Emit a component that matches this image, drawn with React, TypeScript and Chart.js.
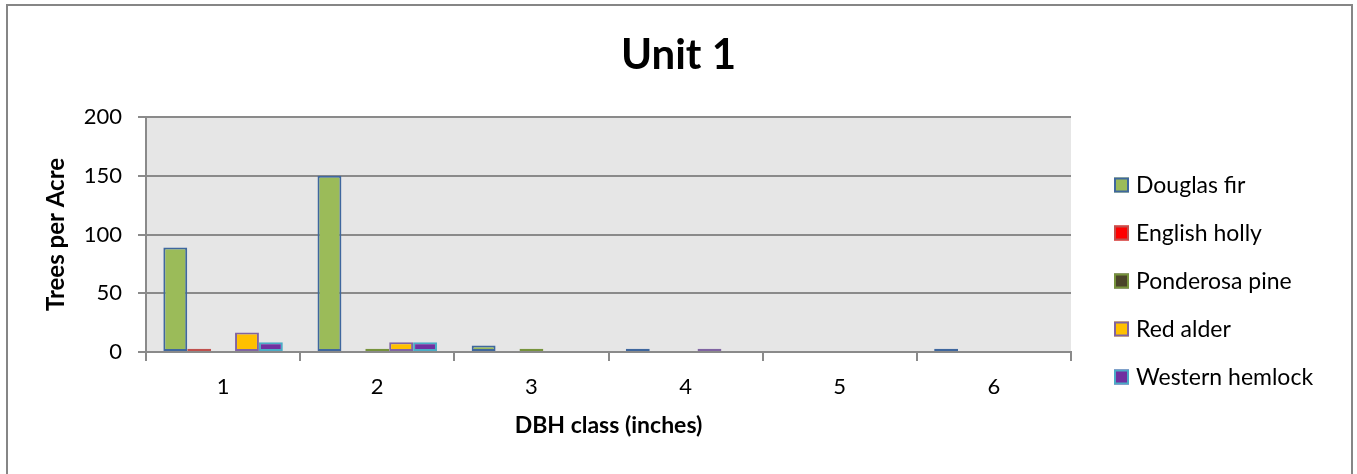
import React, { useEffect, useRef } from "react";
import { Chart, registerables } from "chart.js";

Chart.register(...registerables);

// DBH classes (inches) along the x axis
const dbhClasses = ["1", "2", "3", "4", "5", "6"];

// Trees per acre by species; null where no trees were tallied
const douglasFir = [88.89, 150, 5.56, 2.78, null, 2.78];
const englishHolly = [2.78, null, null, null, null, null];
const ponderosaPine = [null, 2.78, 2.78, null, null, null];
const redAlder = [16.67, 8.33, null, 2.78, null, null];
const westernHemlock = [8.33, 8.33, null, null, null, null];

const speciesNames = ["Douglas fir", "English holly", "Ponderosa pine", "Red alder", "Western hemlock"];
const fillColors = ["#9BBB59", "#FF0000", "#4A4429", "#FFC000", "#7030A0"];
const edgeColors = ["#3F679E", "#C0504D", "#77933C", "#8064A2", "#4BACC6"];

const yTicks = [0, 50, 100, 150, 200];

const FONT = "Lato, 'Liberation Sans', sans-serif";
const GRID = "#8A8A8A";

// gray fill behind the plotting area
const plotBackground = {
  id: "plotBackground",
  beforeDraw(chart: any) {
    const { ctx, chartArea } = chart;
    ctx.save();
    ctx.fillStyle = "#E6E6E6";
    ctx.fillRect(chartArea.left, chartArea.top, chartArea.right - chartArea.left, chartArea.bottom - chartArea.top);
    ctx.restore();
  },
};

// species key to the right of the plot
const sideLegend = {
  id: "sideLegend",
  afterDraw(chart: any) {
    const { ctx } = chart;
    const x = 1114;
    const y0 = 185;
    const step = 48;
    const box = 15;
    ctx.save();
    ctx.font = `23px ${FONT}`;
    ctx.textBaseline = "middle";
    ctx.textAlign = "left";
    chart.data.datasets.forEach((ds: any, i: number) => {
      const cy = y0 + i * step;
      ctx.fillStyle = ds.backgroundColor;
      ctx.fillRect(x, cy - box / 2, box, box);
      ctx.strokeStyle = ds.borderColor;
      ctx.lineWidth = 2;
      ctx.strokeRect(x + 1, cy - box / 2 + 1, box - 2, box - 2);
      ctx.fillStyle = "#000";
      ctx.fillText(ds.label, x + 22, cy + 1);
    });
    ctx.restore();
  },
};

export default function App() {
  const canvasRef = useRef<HTMLCanvasElement | null>(null);

  useEffect(() => {
    if (!canvasRef.current) return;
    const series = [douglasFir, englishHolly, ponderosaPine, redAlder, westernHemlock];
    const chart = new Chart(canvasRef.current, {
      type: "bar",
      data: {
        labels: dbhClasses,
        datasets: series.map((values, i) => ({
          label: speciesNames[i],
          data: values,
          backgroundColor: fillColors[i],
          borderColor: edgeColors[i],
          borderWidth: 2,
          borderSkipped: false,
          categoryPercentage: 0.775,
          barPercentage: 1,
        })),
      },
      options: {
        animation: false,
        responsive: false,
        maintainAspectRatio: false,
        layout: { padding: 0 },
        plugins: {
          legend: { display: false },
          tooltip: { enabled: false },
          title: {
            display: true,
            text: "Unit 1",
            color: "#000",
            font: { family: FONT, size: 42, weight: "bold", lineHeight: 1.2 },
            padding: { top: 30, bottom: 36.6 },
          },
        },
        scales: {
          x: {
            offset: true,
            grid: {
              offset: true,
              drawOnChartArea: false,
              drawTicks: true,
              tickLength: 9,
              color: GRID,
              lineWidth: 2,
            },
            border: { display: true, color: GRID, width: 2 },
            ticks: { color: "#000", font: { family: FONT, size: 22 }, padding: 13 },
            title: {
              display: true,
              text: "DBH class (inches)",
              color: "#000",
              font: { family: FONT, size: 23, weight: "bold", lineHeight: 1.2 },
              padding: { top: 0, bottom: 35 },
            },
            afterFit(scale: any) {
              scale.height = 122;
            },
          },
          y: {
            min: 0,
            max: 200,
            afterBuildTicks(scale: any) {
              scale.ticks = yTicks.map((v) => ({ value: v }));
            },
            grid: {
              drawTicks: true,
              tickLength: 8,
              color: GRID,
              lineWidth: 2,
            },
            border: { display: true, color: GRID, width: 2 },
            ticks: { color: "#000", font: { family: FONT, size: 22 }, padding: 16 },
            title: {
              display: true,
              text: "Trees per Acre",
              color: "#000",
              font: { family: FONT, size: 24, weight: "bold", lineHeight: 1.2 },
              padding: { top: 42, bottom: 0 },
            },
            afterFit(scale: any) {
              scale.width = 146;
            },
          },
          // blank strip on the right that leaves room for the species key
          keySpace: {
            type: "linear",
            position: "right",
            display: true,
            grid: { display: false, drawTicks: false },
            border: { display: false },
            ticks: { display: false },
            afterFit(scale: any) {
              scale.width = 286;
            },
          },
        },
      },
      plugins: [plotBackground, sideLegend],
    });
    return () => chart.destroy();
  }, []);

  return (
    <div style={{ position: "fixed", left: 0, top: 0, width: 1357, height: 474, overflow: "hidden", background: "#fff" }}>
      <canvas ref={canvasRef} width={1357} height={474} style={{ position: "absolute", left: 0, top: 0, width: 1357, height: 474 }} />
      <div
        style={{
          position: "absolute",
          left: 6,
          top: 4,
          width: 1347,
          height: 600,
          boxSizing: "border-box",
          border: "2px solid #868686",
          pointerEvents: "none",
        }}
      />
    </div>
  );
}
